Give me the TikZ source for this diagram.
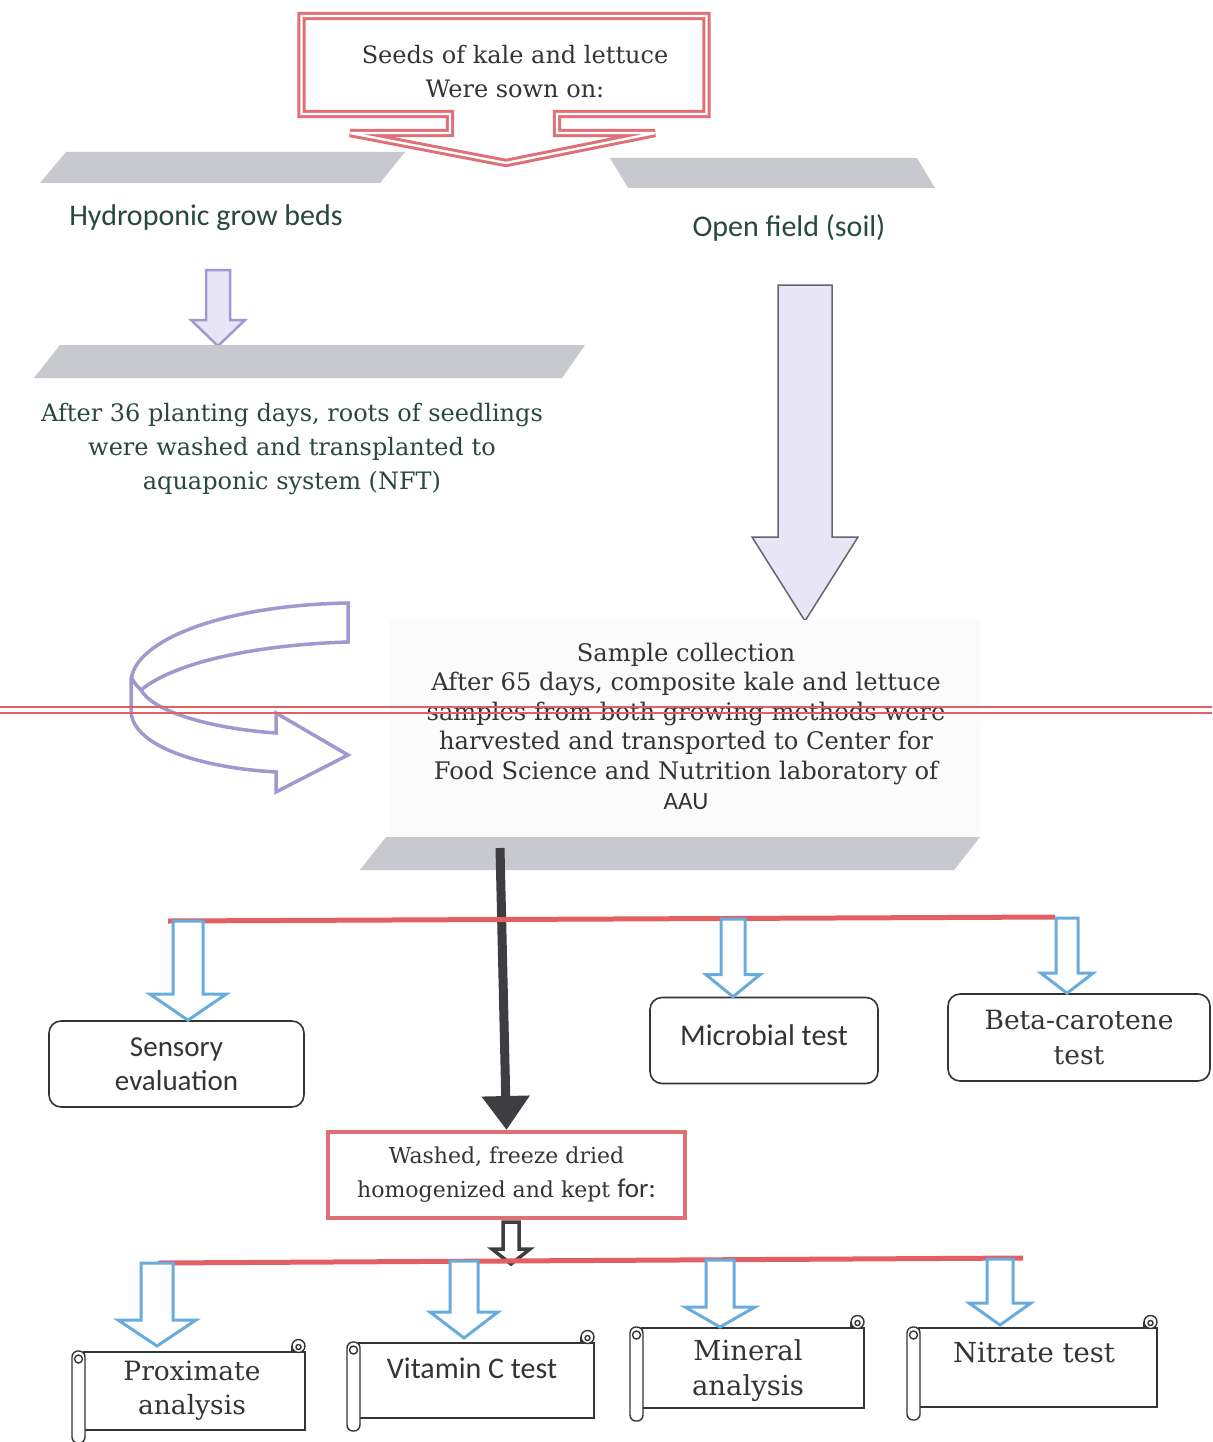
\documentclass[tikz,border=0pt]{standalone}
\usepackage{fontspec}
\setmainfont{DejaVu Serif}
\newfontfamily\calib{Carlito}
\usetikzlibrary{arrows.meta,calc}

\definecolor{boxred}{RGB}{224,112,118}
\definecolor{linered}{RGB}{226,96,100}
\definecolor{bandgray}{RGB}{200,201,206}
\definecolor{lavline}{RGB}{160,152,206}
\definecolor{lavfill}{RGB}{232,230,246}
\definecolor{arrowblue}{RGB}{104,172,222}
\definecolor{darkarrow}{RGB}{62,62,66}
\definecolor{inkgreen}{RGB}{40,72,62}
\definecolor{inkgray}{RGB}{52,52,52}

\tikzset{
    band/.style={fill=bandgray, draw=none},
    serif/.style={font=\fontsize{24}{34}\selectfont, align=center, text=inkgray},
    sans/.style={font=\calib\fontsize{30}{34}\selectfont, align=center, text=inkgray},
    testbox/.style={draw=inkgray, line width=1.6pt, rounded corners=12pt, align=center, text=inkgray},
    blockblue/.style={draw=arrowblue, line width=3pt, fill=white, line join=miter},
    scrolledge/.style={draw=inkgray, line width=1.4pt, fill=white}
}

% vertical hollow arrow: style, from, to, stem half width, head half width, head length
\newcommand{\hollowarrow}[6]{%
    \draw[#1] let \p1=(#2), \p2=(#3) in
        (\x1-#4pt,\y1) -- (\x1-#4pt,\y2+#6pt) -- (\x1-#5pt,\y2+#6pt) -- (\x1,\y2)
        -- (\x1+#5pt,\y2+#6pt) -- (\x1+#4pt,\y2+#6pt) -- (\x1+#4pt,\y1) -- cycle;
}

% scroll: left x, top y, right x, bottom y
\newcommand{\scrollshape}[4]{%
    \draw[scrolledge] ({#1+12},#2) rectangle (#3,#4);
    \draw[scrolledge] ({#3-6.5},{#2-6}) circle[radius=6.5pt];
    \draw[scrolledge] ({#3-6.5},{#2-5}) circle[radius=2.5pt];
    \draw[scrolledge] ({#3-13},#2) -- ({#3-13},{#2-6});
    \draw[scrolledge, rounded corners=6pt] (#1,{#2-1}) rectangle ({#1+13},{#4+13});
    \draw[scrolledge] ({#1+6.5},{#2+7}) circle[radius=4pt];
}

\begin{document}
\begin{tikzpicture}[x=1pt,y=-1pt]
            \useasboundingbox (0,0) rectangle (1212,1442);

            \draw[boxred, line width=3pt, double=white, double distance=2.4pt, line join=miter]
                (301.5,16) -- (706.5,16) -- (706.5,114) -- (557,114) -- (557,133) -- (655,133)
                -- (506,163) -- (350,133) -- (450,133) -- (450,114) -- (301.5,114) -- cycle;
            \node[serif] (seeds) at (515,72) {Seeds of kale and lettuce\\Were sown on:};

            \fill[band] (40,183) -- (66,152) -- (405,152) -- (380,183) -- cycle;
            \fill[band] (610,158) -- (917,158) -- (935,188) -- (628,188) -- cycle;
            \node[sans, text=inkgreen] (hydro) at (206,218) {Hydroponic grow beds};
            \node[sans, text=inkgreen] (openfield) at (789,228) {Open field (soil)};

            \coordinate (hydro foot) at (218,270);
            \coordinate (band top) at (218,346);
            \hollowarrow{draw=lavline, line width=2.5pt, fill=lavfill}{hydro foot}{band top}{12}{27}{26}
            \fill[band] (34,378) -- (60,345) -- (585,345) -- (562,378) -- cycle;
            \node[serif, text=inkgreen] (transplant) at (292,449)
                {After 36 planting days, roots of seedlings\\were washed and transplanted to\\aquaponic system (NFT)};

            \coordinate (field foot) at (805,285);
            \coordinate (sample top) at (805,621);
            \hollowarrow{draw=darkarrow!80, line width=1.5pt, fill=lavfill}{field foot}{sample top}{27}{53}{84}

            \fill[black!1.5] (390,620) rectangle (980,838);
            \fill[band] (360,870) -- (386,837) -- (980,837) -- (954,870) -- cycle;
            \node[serif, font=\fontsize{24.2}{29.6}\selectfont] (sample) at (686,726)
                {Sample collection\\After 65 days, composite kale and lettuce\\samples from both growing methods were\\harvested and transported to Center for\\Food Science and Nutrition laboratory of\\{\calib\fontsize{25}{29.6}\selectfont AAU}};

            \draw[lavline, line width=3.5pt, fill=white, line join=miter]
                (348,603) .. controls (225,605) and (132,640) .. (131,682) -- (131,712)
                .. controls (134,748) and (205,768) .. (276,772) -- (276,792) -- (348,755)
                -- (276,713) -- (276,733) .. controls (205,728) and (152,710) .. (141,690)
                .. controls (172,664) and (250,645) .. (348,642) -- cycle;
            \draw[lavline, line width=3.5pt] (141,690) .. controls (135,684) and (132,680) .. (131,676);

            \draw[linered, line width=1.1pt] (0,707) -- (1212,707);
            \draw[linered, line width=1.1pt] (0,713) -- (1212,713);

            \node[draw=boxred, line width=4pt, minimum width=357, minimum height=86, serif,
                font=\fontsize{22}{34}\selectfont] (washed) at (506.5,1175)
                {Washed, freeze dried\\homogenized and kept {\calib\fontsize{27}{34}\selectfont for:}};
            \coordinate (sample foot) at (500,848);
            \draw[darkarrow, line width=9pt, -{Triangle[length=34pt,width=46pt]}] (sample foot) -- (washed.north);

            \draw[linered, line width=5pt] (168,921) -- (1055,917);
            \coordinate (sens top) at (188,921);
            \coordinate (micro top) at (733,919);
            \coordinate (beta top) at (1067,918);
            \node[testbox, minimum width=255, minimum height=86, sans, font=\calib\fontsize{29}{34}\selectfont] (sens) at (176.5,1064) {\raisebox{-4pt}{Sensory}\\\raisebox{-4pt}{evaluation}};
            \node[testbox, minimum width=228, minimum height=86, sans] (micro) at (764,1040.5) {\raisebox{10pt}{Microbial test}};
            \node[testbox, minimum width=262, minimum height=87, serif, font=\fontsize{26.5}{35}\selectfont] (beta) at (1079,1037.5) {Beta-carotene\\test};
            \hollowarrow{blockblue}{sens top}{sens.north}{15}{38}{26}
            \hollowarrow{blockblue}{micro top}{micro.north}{12}{27}{22}
            \hollowarrow{blockblue}{beta top}{beta.north}{11}{26}{20}

            \coordinate (washed foot) at (511,1222);
            \coordinate (split) at (511,1264);
            \hollowarrow{draw=darkarrow, line width=3.5pt, fill=white}{washed foot}{split}{8}{19}{15}
            \draw[linered, line width=5pt] (158,1263) -- (1023,1258);

            \scrollshape{72}{1352}{305}{1430}
            \scrollshape{347}{1343}{594}{1418}
            \scrollshape{630}{1328}{864}{1408}
            \scrollshape{907}{1328}{1157}{1407}
            \node[serif, font=\fontsize{26.5}{34}\selectfont] (prox) at (192,1391) {Proximate\\analysis};
            \node[sans] (vitc) at (472,1368) {Vitamin C test};
            \node[serif, font=\fontsize{27.5}{35}\selectfont] (mineral) at (748,1371) {Mineral\\analysis};
            \node[serif, font=\fontsize{27.5}{34}\selectfont] (nitrate) at (1034,1353) {Nitrate test};

            \coordinate (prox top) at (157,1263);
            \coordinate (vitc top) at (464,1261);
            \coordinate (mineral top) at (720,1260);
            \coordinate (nitrate top) at (1000,1259);
            \coordinate (prox tip) at (157,1346);
            \coordinate (vitc tip) at (464,1338);
            \coordinate (mineral tip) at (720,1327);
            \coordinate (nitrate tip) at (1000,1325);
            \hollowarrow{blockblue}{prox top}{prox tip}{16}{39}{26}
            \hollowarrow{blockblue}{vitc top}{vitc tip}{14}{34}{26}
            \hollowarrow{blockblue}{mineral top}{mineral tip}{14}{35}{20}
            \hollowarrow{blockblue}{nitrate top}{nitrate tip}{13}{31}{22}
        \end{tikzpicture}
\end{document}
